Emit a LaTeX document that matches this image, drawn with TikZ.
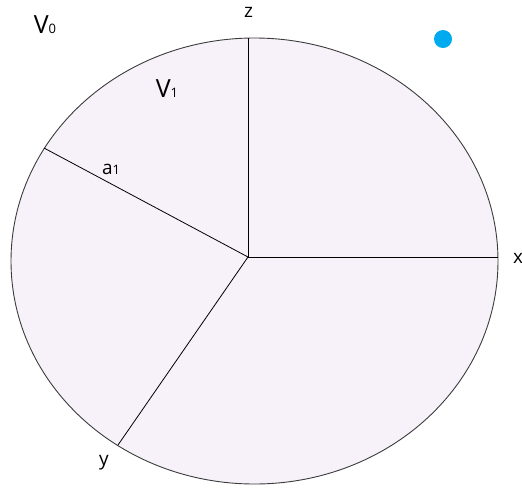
\documentclass[tikz,border=0pt]{standalone}
\usepackage{fontspec}
\setmainfont{Open Sans}
\usetikzlibrary{positioning}
\definecolor{cellfill}{RGB}{247,241,250}
\definecolor{rimgray}{RGB}{60,60,60}
\definecolor{dotblue}{RGB}{0,170,238}
\newcommand{\lo}[1]{{\fontsize{13}{13}\selectfont #1}}
\tikzset{
  rim/.style={draw=rimgray, fill=cellfill, line width=0.9pt},
  spoke/.style={draw=black, line width=0.8pt},
  lab/.style={font=\fontsize{19}{19}\selectfont, inner sep=0pt, anchor=base},
  biglab/.style={font=\fontsize{25}{25}\selectfont, inner sep=0pt, anchor=base},
  marker/.style={fill=dotblue, draw=none},
}

\begin{document}
\begin{tikzpicture}[x=1pt, y=-1pt]
\useasboundingbox (0,0) rectangle (522,488);
% region V1 (the ellipse)
\draw[rim] (254.5,261) ellipse [x radius=243.5, y radius=223];
% hub and ends of the spokes
\coordinate (o) at (248,257);
\coordinate (zend) at (248,38.3);
\coordinate (xend) at (498,257);
\coordinate (yend) at (118,445);
\coordinate (aend) at (44,148);
\draw[spoke] (o) -- (zend);
\draw[spoke] (o) -- (xend);
\draw[spoke] (o) -- (yend);
\draw[spoke] (o) -- (aend);
% labels
\node[biglab] (v0) at (45,33) {V\lo{0}};
\node[biglab] (v1) at (167,97) {V\lo{1}};
\node[lab] (zl) at (248.5,17) {z};
\node[lab] (xl) at (518,263) {x};
\node[lab] (yl) at (104,465) {y};
\node[lab] (al) at (111,174) {a\lo{1}};
\fill[marker] (443,39) circle (9);
\end{tikzpicture}
\end{document}
